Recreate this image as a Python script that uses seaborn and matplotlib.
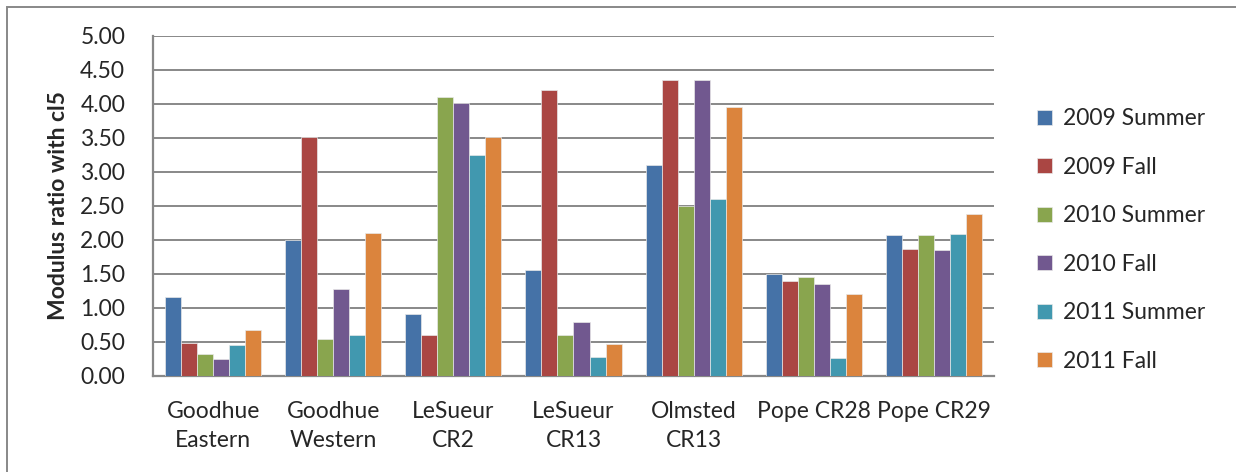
import matplotlib
matplotlib.use("Agg")
import matplotlib.pyplot as plt
from matplotlib.patches import Rectangle
import pandas as pd
import seaborn as sns

sites = ["Goodhue\nEastern", "Goodhue\nWestern", "LeSueur\nCR2", "LeSueur\nCR13",
         "Olmsted\nCR13", "Pope CR28", "Pope CR29"]
seasons = ["2009 Summer", "2009 Fall", "2010 Summer", "2010 Fall", "2011 Summer", "2011 Fall"]

summer_2009 = [1.16, 2.00, 0.91, 1.56, 3.10, 1.50, 2.07]
fall_2009 = [0.49, 3.51, 0.61, 4.21, 4.35, 1.39, 1.87]
summer_2010 = [0.33, 0.55, 4.10, 0.60, 2.50, 1.46, 2.07]
fall_2010 = [0.25, 1.28, 4.01, 0.79, 4.35, 1.36, 1.86]
summer_2011 = [0.46, 0.60, 3.25, 0.28, 2.61, 0.26, 2.09]
fall_2011 = [0.67, 2.11, 3.51, 0.47, 3.96, 1.20, 2.38]

yticks = [0.0, 0.5, 1.0, 1.5, 2.0, 2.5, 3.0, 3.5, 4.0, 4.5, 5.0]

palette = ["#4572A7", "#AA4643", "#89A54E", "#71588F", "#4198AF", "#DB843D"]

series = [summer_2009, fall_2009, summer_2010, fall_2010, summer_2011, fall_2011]
rows = []
for season, vals in zip(seasons, series):
    for site, v in zip(sites, vals):
        rows.append({"site": site, "season": season, "ratio": v})
df = pd.DataFrame(rows)

sns.set_style("white")
plt.rcParams["font.family"] = ["Lato", "DejaVu Sans"]
fs = 16.5

fig = plt.figure(figsize=(12.36, 4.72), dpi=100)
ax = fig.add_axes([153 / 1236, 1 - 376 / 472, (994 - 153) / 1236, (376 - 36) / 472])

sns.barplot(data=df, x="site", y="ratio", hue="season", order=sites, hue_order=seasons,
            palette=palette, width=0.8, saturation=1, errorbar=None, ax=ax,
            edgecolor="#e8e8e8", linewidth=0.5, zorder=3)

grid_color = "#888888"
ax.set_ylim(0, 5.0)
ax.set_xlim(-0.5, len(sites) - 0.5)
ax.set_yticks(yticks)
ax.set_yticklabels([f"{t:.2f}" for t in yticks], fontsize=fs)
ax.yaxis.grid(True, color=grid_color, linewidth=1.4, zorder=0)
ax.set_axisbelow(True)
ax.tick_params(axis="y", direction="out", length=7, width=1.4, color=grid_color, pad=13)
ax.tick_params(axis="x", length=0, pad=18, labelsize=fs)
for lbl in ax.get_xticklabels():
    lbl.set_linespacing(1.45)

for side in ["top", "right"]:
    ax.spines[side].set_visible(False)
for side in ["left", "bottom"]:
    ax.spines[side].set_color(grid_color)
    ax.spines[side].set_linewidth(1.6)

ax.set_xlabel("")
ax.set_ylabel("Modulus ratio with cl5", fontsize=fs, fontweight="bold", labelpad=8)

handles, labels = ax.get_legend_handles_labels()
ax.legend(handles, labels, loc="center left", bbox_to_anchor=(1.04, 0.4), frameon=False,
          fontsize=fs, handlelength=0.65, handleheight=0.65, handletextpad=0.5,
          labelspacing=1.2, borderaxespad=0)

# chart frame
fig.patches.append(Rectangle((7 / 1236, -0.2), 1.3, 1.2 - 7 / 472, transform=fig.transFigure,
                             fill=False, edgecolor=grid_color, linewidth=1.4))

fig.savefig("out.png", dpi=100)
